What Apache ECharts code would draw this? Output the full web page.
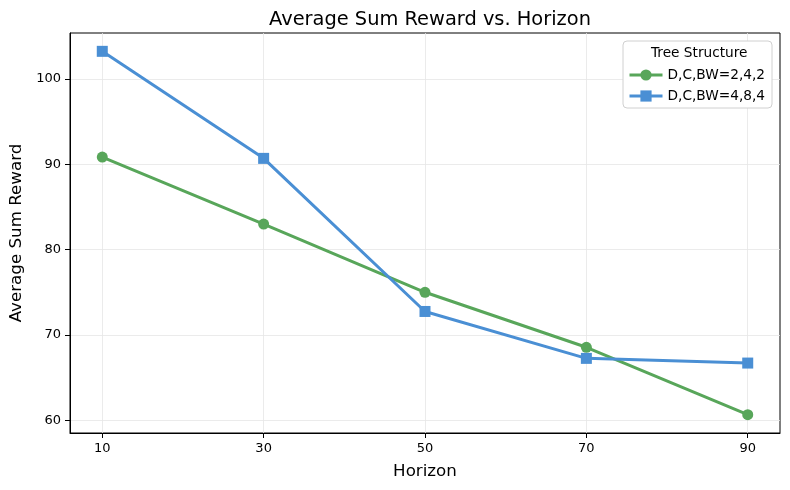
<!DOCTYPE html>
<html>
<head>
<meta charset="utf-8">
<script src="https://cdn.jsdelivr.net/npm/echarts@6/dist/echarts.min.js"></script>
<style>
  html, body { margin: 0; padding: 0; background: #fff; }
  #main { width: 790px; height: 490px; }
</style>
</head>
<body>
<div id="main"></div>
<script>
var horizons = [10, 30, 50, 70, 90];
var bw242 = [90.85, 83.0, 75.0, 68.55, 60.65];
var bw484 = [103.25, 90.7, 72.75, 67.25, 66.7];
var yTicks = [60, 70, 80, 90, 100];

var dom = document.getElementById('main');
var myChart = echarts.init(dom, null, { renderer: 'canvas' });

function pairs(xs, ys) {
  return xs.map(function (x, i) { return [x, ys[i]]; });
}

var font = 'DejaVu Sans';

var option = {
  animation: false,
  backgroundColor: '#ffffff',
  title: {
    text: 'Average Sum Reward vs. Horizon',
    left: 425,
    top: 5,
    textAlign: 'center',
    textStyle: { fontFamily: font, fontSize: 19.4, fontWeight: 'normal', color: '#000' }
  },
  grid: {
    left: 70, right: 10, top: 33, bottom: 57,
    show: true, borderColor: '#000', borderWidth: 1
  },
  legend: {
    left: 623, top: 41,
    orient: 'vertical',
    padding: [27, 7, 5, 5],
    itemGap: 7,
    itemWidth: 33, itemHeight: 14,
    backgroundColor: '#fff',
    borderColor: '#d0d0d0', borderWidth: 1, borderRadius: 4,
    lineStyle: { width: 3 },
    textStyle: { fontFamily: font, fontSize: 13.7, color: '#000' },
    data: ['D,C,BW=2,4,2', 'D,C,BW=4,8,4']
  },
  graphic: [{
    type: 'text',
    left: 651, top: 46,
    style: { text: 'Tree Structure', font: '13.7px "DejaVu Sans"', fill: '#000' },
    z: 100
  }],
  xAxis: {
    type: 'value',
    min: 6, max: 94,
    name: 'Horizon',
    nameLocation: 'middle',
    nameGap: 30,
    nameTextStyle: { fontFamily: font, fontSize: 16.7, color: '#000' },
    axisLine: { lineStyle: { color: '#000', width: 1 } },
    axisTick: { show: true, length: 5, customValues: horizons, lineStyle: { color: '#000' } },
    axisLabel: { customValues: horizons, fontFamily: font, fontSize: 13, color: '#000', margin: 9 },
    splitLine: { show: true, lineStyle: { color: '#e6e6e6', width: 0.8 } }
  },
  yAxis: {
    type: 'value',
    min: 58.5, max: 105.4,
    name: 'Average Sum Reward',
    nameLocation: 'middle',
    nameGap: 44,
    nameTextStyle: { fontFamily: font, fontSize: 16.7, color: '#000' },
    axisLine: { show: true, lineStyle: { color: '#000', width: 1 } },
    axisTick: { show: true, length: 5, customValues: yTicks, lineStyle: { color: '#000' } },
    axisLabel: { customValues: yTicks, fontFamily: font, fontSize: 13, color: '#000', margin: 9 },
    splitLine: { show: true, lineStyle: { color: '#e6e6e6', width: 0.8 } }
  },
  series: [
    {
      name: 'D,C,BW=2,4,2',
      type: 'line',
      data: pairs(horizons, bw242),
      symbol: 'circle',
      symbolSize: 11,
      color: '#58a65a',
      lineStyle: { width: 3, color: '#58a65a' },
      itemStyle: { color: '#58a65a' }
    },
    {
      name: 'D,C,BW=4,8,4',
      type: 'line',
      data: pairs(horizons, bw484),
      symbol: 'rect',
      symbolSize: 11,
      color: '#4a8fd4',
      lineStyle: { width: 3, color: '#4a8fd4' },
      itemStyle: { color: '#4a8fd4' }
    }
  ]
};

myChart.setOption(option);
window.addEventListener('resize', myChart.resize);
</script>
</body>
</html>
